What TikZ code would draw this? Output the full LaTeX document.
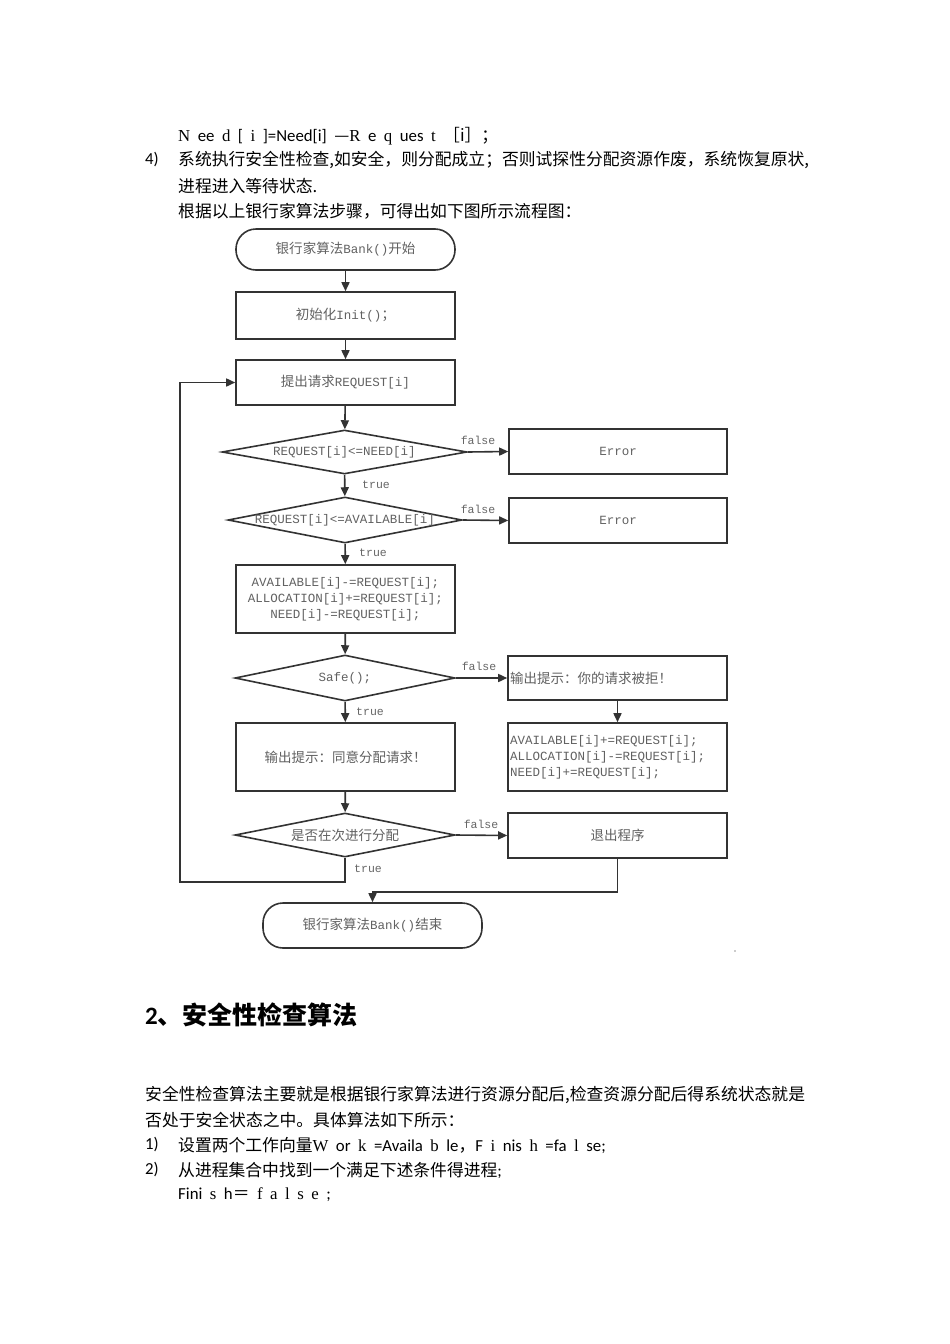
\documentclass[tikz,border=0pt]{standalone}
\usepackage{fontspec}
\usetikzlibrary{shapes.geometric,arrows.meta}
\setmainfont{Carlito}
\newfontfamily\cjk{Noto Sans CJK SC}
\newfontfamily\cmono{Liberation Mono}
\newfontfamily\cser{Liberation Serif}
\newcommand\zh[1]{{\fontsize{13.5}{16}\selectfont\cjk #1}}
\newcommand\gp{\hspace{7.5pt}}
\tikzset{
  fc/.style={draw=black!80, line width=1.6pt},
  pbox/.style={fc, rectangle, minimum width=219pt, inner sep=0pt, text=black!62, align=center,
    font=\cmono\fontsize{12.5}{16}\selectfont},
  term/.style={pbox, rounded corners=20pt},
  dia/.style={fc, diamond, inner sep=0pt},
  dtext/.style={text=black!62, font=\cmono\fontsize{12.5}{16}\selectfont, inner sep=0pt},
  arr/.style={draw=black!80, line width=1.6pt, -{Triangle[length=9pt,width=8pt]}},
  lbl/.style={font=\cmono\fontsize{11.5}{11.5}\selectfont, text=black!60, inner sep=0pt},
  body/.style={anchor=west, inner sep=0pt, font=\fontsize{16.8}{20}\selectfont},
}
\begin{document}
\begin{tikzpicture}[x=1pt,y=-1pt]
\fill[white] (0,0) rectangle (950,1344);
\useasboundingbox (0,0) rectangle (950,1344);

% ---- top text ----
\node[body] (t1) at (178,136) {{\cser N}\gp ee\gp{\cser d}\gp[\gp{\cser i}\gp]=Need[i]\gp{\cjk —}{\cser R}\gp e\gp{\cser q}\gp ues\gp{\cser t}\gp{\cjk ［i］；}};
\node[body] (n4) at (145,160) {4)};
\node[body] (t2) at (178,160) {\cjk 系统执行安全性检查,如安全，则分配成立；否则试探性分配资源作废，系统恢复原状,};
\node[body] (t3) at (178,186) {\cjk 进程进入等待状态.};
\node[body] (t4) at (178,211) {\cjk 根据以上银行家算法步骤，可得出如下图所示流程图：};

% ---- flowchart nodes ----
\node[term, minimum height=41pt] (start) at (345.5,249.5) {\zh{银行家算法}Bank()\zh{开始}};
\node[pbox, minimum height=47pt] (init) at (345.5,315.5) {\zh{初始化}Init()\zh{；}};
\node[pbox, minimum height=45pt] (req) at (345.5,382.5) {\zh{提出请求}REQUEST[i]};

\node[dia, minimum width=245pt, minimum height=44pt] (d1) at (344.5,452) {};
\node[dtext] (d1t) at (d1.center) {REQUEST[i]<=NEED[i]};
\node[pbox, minimum width=218pt, minimum height=45pt] (e1) at (618,451.5) {Error};

\node[dia, minimum width=234pt, minimum height=46pt] (d2) at (345,520) {};
\node[dtext] (d2t) at (d2.center) {REQUEST[i]<=AVAILABLE[i]};
\node[pbox, minimum width=218pt, minimum height=45pt] (e2) at (618,520.5) {Error};

\node[pbox, minimum height=68pt] (upd) at (345.5,599) {AVAILABLE[i]-=REQUEST[i];\\ALLOCATION[i]+=REQUEST[i];\\NEED[i]-=REQUEST[i];};

\node[dia, minimum width=220pt, minimum height=46pt] (d3) at (345,678) {};
\node[dtext] (d3t) at (d3.center) {Safe();};
\node[pbox, minimum height=44pt, align=left, text width=215pt] (rej) at (617.5,678) {\zh{输出提示：你的请求被拒！}};
\node[pbox, minimum height=68pt, align=left, text width=215pt] (rest) at (617.5,757) {AVAILABLE[i]+=REQUEST[i];\\ALLOCATION[i]-=REQUEST[i];\\NEED[i]+=REQUEST[i];};
\node[pbox, minimum height=68pt] (ok) at (345.5,757) {\zh{输出提示：同意分配请求！}};

\node[dia, minimum width=220pt, minimum height=44pt] (d4) at (345,835) {};
\node[dtext] (d4t) at (d4.center) {\zh{是否在次进行分配}};
\node[pbox, minimum height=45pt] (quit) at (617.5,835.5) {\zh{退出程序}};

\node[term, minimum height=45pt] (end) at (372.5,925.5) {\zh{银行家算法}Bank()\zh{结束}};

\coordinate (lb) at (180,882);
\coordinate (jn) at (372.5,892);

% ---- connectors ----
\draw[arr] (start) -- (init);
\draw[arr] (init) -- (req);
\draw[arr] (req) -- (d1);
\draw[arr] (d1) -- (d2);
\draw[arr] (d2) -- (upd);
\draw[arr] (upd) -- (d3);
\draw[arr] (d3) -- (ok);
\draw[arr] (ok) -- (d4);
\draw[arr] (d1.east) -- (e1.west);
\draw[arr] (d2.east) -- (e2.west);
\draw[arr] (d3.east) -- (rej.west);
\draw[arr] (d4.east) -- (quit.west);
\draw[arr] (rej) -- (rest);
\draw[arr] (d4.south) |- (lb) |- (req.west);
\draw[arr] (quit.south) |- (jn) -- (end.north);

% ---- connector labels ----
\node[lbl] (f1) at (478,440) {false};
\node[lbl] (f2) at (478,509) {false};
\node[lbl] (f3) at (479,666) {false};
\node[lbl] (f4) at (481,824) {false};
\node[lbl] (r1) at (376,485) {true};
\node[lbl] (r2) at (373,553) {true};
\node[lbl] (r3) at (370,712) {true};
\node[lbl] (r4) at (368,869) {true};

\fill[black!40] (735,951) circle (0.8pt);

% ---- lower text ----
\node[anchor=west, inner sep=0pt, font=\fontsize{25}{28}\selectfont\bfseries] (h2) at (145,1015) {2{\cjk 、安全性检查算法}};
\node[body] (p1) at (145,1095) {\cjk 安全性检查算法主要就是根据银行家算法进行资源分配后,检查资源分配后得系统状态就是};
\node[body] (p2) at (145,1120) {\cjk 否处于安全状态之中。具体算法如下所示：};
\node[body] (n1) at (145,1145) {1)};
\node[body] (p3) at (178,1145) {{\cjk 设置两个工作向量}{\cser W}\gp or\gp{\cser k}\gp=Availa\gp{\cser b}\gp le{\cjk ，}F\gp{\cser i}\gp nis\gp{\cser h}\gp=fa\gp{\cser l}\gp se;};
\node[body] (n2) at (145,1170) {2)};
\node[body] (p4) at (178,1170) {{\cjk 从进程集合中找到一个满足下述条件得进程}{;}};
\node[body] (p5) at (178,1195) {Fini\gp{\cser s}\gp h{\cjk ＝}\gp{\cser f\gp a\gp l\gp s\gp e}\gp;};
\end{tikzpicture}
\end{document}
